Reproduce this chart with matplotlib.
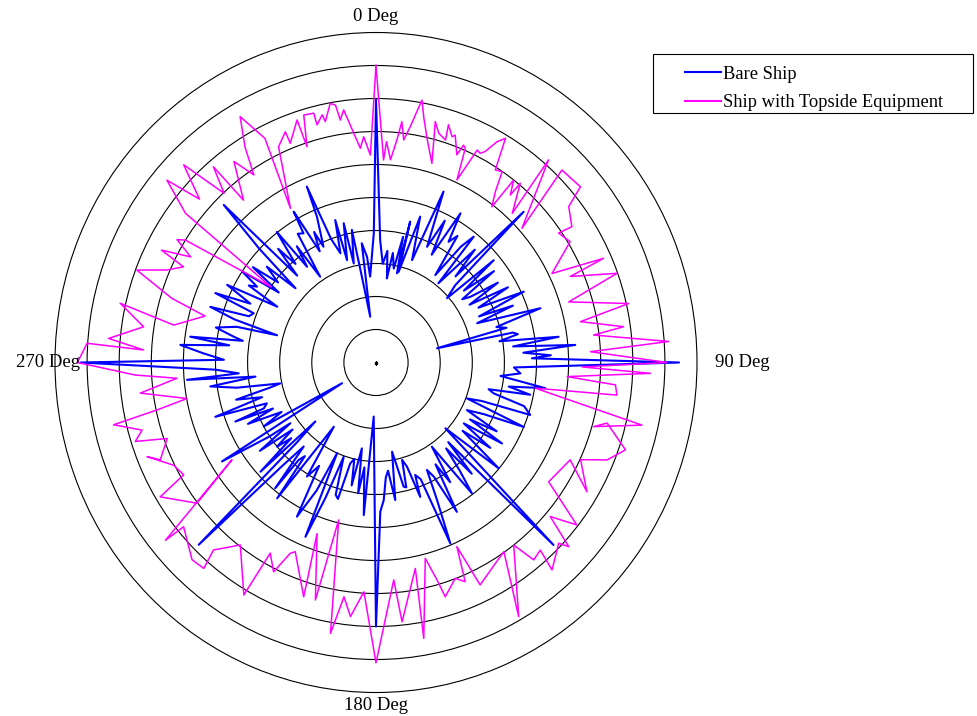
import numpy as np
import matplotlib
matplotlib.use("Agg")
import matplotlib.pyplot as plt
from matplotlib.patches import Rectangle
from matplotlib.lines import Line2D

plt.rcParams["font.family"] = ["Liberation Serif", "DejaVu Serif"]

# Bare hull RCS pattern: aspect angle (deg, clockwise from bow) and level
bare_ship_deg = [
    # starboard bow quadrant
    0, 2, 4, 6, 7.6, 9, 11, 12.5, 13.6, 14,
    14.4, 17.3, 19.9, 22.1, 24.4, 26.5, 28, 30.2, 31.7, 33.5,
    34.9, 37, 38.6, 39, 42, 43.5, 45.2, 46.5, 48.6, 49.8,
    51.5, 53, 54.5, 55.9, 57.5, 59, 61, 62.5, 65, 66.5,
    68, 69.3, 72.2, 74, 75.5, 77.2, 78, 79, 80.5, 82.2,
    83.5, 85.1, 86.3, 87.7, 88.5,
    # starboard quarter
    90, 92, 94.2, 96, 98.4, 100, 101.5, 103, 104.3, 106,
    108.3, 109.5, 111, 113, 115, 117, 119, 120.5, 122, 124,
    126, 127.5, 130, 132.7, 135, 137, 138.5, 140, 141.5, 143,
    145.7, 147.5, 149, 150.9, 152.5, 154, 155.5, 157.1, 158.5, 160.3,
    161.3, 163, 164.6, 166, 167.1, 169.5, 171.8, 173.5, 175, 176.7,
    178.3,
    # port quarter
    180, 182.5, 184.7, 186.5, 188, 189.6, 191.5, 193, 194.7, 196,
    197.4, 199.4, 201, 202.6, 203.8, 205.5, 207.8, 209.5, 211.9, 212.4,
    214, 216.8, 218, 219.2, 219.5, 221.5, 223, 225, 225.5, 226.6,
    227.4, 229, 230.4, 232, 233.5, 235.4, 236, 238, 239.3, 241,
    243, 245, 246.5, 247.8, 248.3, 250, 251.8, 253.5, 255.5, 257,
    258, 260, 262, 263.5, 264.9, 265.6, 267.5,
    # port bow quadrant
    270, 271, 273, 275, 276.5, 277.7, 279, 280, 282, 284,
    285, 286.5, 288.1, 289.5, 291.4, 292.8, 294.5, 296.9, 298.8, 300.5,
    301.8, 303.5, 305, 307, 308.5, 310.5, 311.9, 313.5, 315.2, 317,
    318.5, 320, 322, 323.5, 325, 326.2, 328, 330, 330.7, 330.9,
    332.5, 334, 335, 337.4, 338, 339.5, 341.5, 343.6, 343.8, 346.6,
    347, 349.4, 350.4, 352.6, 353, 355, 356, 359,
]
bare_ship_r = [
    7.95, 3.71, 3.0, 3.4, 2.57, 3.36, 2.9, 3.9, 2.78, 4.4,
    2.84, 4.63, 3.3, 5.59, 3.85, 4.8, 3.7, 5.23, 4.3, 4.6,
    3.23, 4.4, 4.88, 3.09, 4.6, 3.6, 6.48, 3.4, 2.95, 4.8,
    3.5, 4.6, 3.3, 3.55, 4.5, 3.4, 4.7, 3.6, 5.08, 3.5,
    4.6, 3.37, 5.38, 3.9, 4.2, 1.95, 4.36, 4.5, 3.9, 5.74,
    4.3, 6.23, 4.6, 5.45, 4.86,
    9.44, 4.3, 4.51, 3.9, 5.33, 4.2, 4.9, 3.6, 3.78, 4.8,
    5.06, 3.5, 3.04, 5.0, 3.7, 3.18, 4.3, 3.4, 4.63, 3.3,
    4.4, 3.4, 4.99, 2.94, 7.82, 3.3, 4.5, 3.4, 4.2, 4.96,
    3.09, 4.3, 3.6, 5.18, 3.9, 3.62, 4.6, 5.95, 3.8, 3.62,
    4.3, 3.3, 3.06, 3.9, 3.86, 2.75, 4.21, 3.3, 3.5, 4.18,
    4.52,
    8.0, 1.64, 4.64, 3.2, 4.0, 2.64, 3.8, 3.0, 3.16, 4.3,
    4.2, 3.03, 4.4, 5.72, 3.0, 4.3, 5.28, 3.6, 4.07, 3.43,
    2.35, 5.14, 3.6, 3.81, 4.94, 3.4, 4.3, 7.81, 3.47, 2.6,
    4.89, 3.5, 4.0, 3.3, 4.5, 3.24, 4.03, 5.66, 1.23, 4.0,
    3.3, 4.4, 3.5, 4.73, 3.76, 3.62, 5.27, 3.7, 4.5, 3.4,
    3.05, 4.4, 5.21, 3.78, 5.91, 4.29, 5.0,
    9.2, 4.74, 5.4, 6.12, 4.6, 5.84, 4.2, 4.5, 5.1, 4.47,
    3.19, 4.6, 5.43, 4.2, 4.09, 5.43, 4.3, 5.2, 3.51, 4.6,
    4.36, 5.0, 3.7, 4.8, 3.9, 4.47, 3.37, 5.03, 6.73, 3.6,
    4.6, 3.9, 5.02, 3.61, 4.3, 3.13, 4.6, 4.52, 5.24, 5.06,
    3.8, 4.4, 3.87, 4.79, 5.75, 4.0, 3.49, 4.5, 3.23, 4.34,
    3.08, 4.09, 2.64, 1.4, 3.64, 3.22, 2.61, 3.92,
]

# RCS pattern with topside equipment fitted
topside_deg = [
    0, 2.2, 2.8, 4.2, 5.5, 6.3, 7.3, 8.5, 10.2, 11.4,
    13.2, 16.1, 14.2, 15.7, 17.8, 17.4, 19.1, 19.7, 21.8, 22.5,
    23.2, 24.5, 26.1, 27.1, 28, 29.4, 30.7, 32.5, 34.2, 35.7,
    37.4, 37.8, 39.5, 39.6, 43.2, 41.2, 48.2, 44.8, 50.1, 51.8,
    56, 55.4, 58.8, 63.8, 66, 66.7, 70.2, 73, 77.2, 79,
    82, 83, 86, 87.2,
    90, 91.2, 92.2, 94.1, 95.2, 97.5, 98.9, 102.9, 106, 104.3,
    108.8, 112.3, 114.8, 120.8, 116, 123.9, 128.2, 130.7, 132.9, 133.9,
    138.9, 138, 140.6, 142.2, 150, 145.2, 148.5, 154.3, 155.7, 157.3,
    159.3, 163.1, 163.9, 165.5, 169.9, 168.9, 174.1, 175.2,
    180, 183.1, 185.9, 188, 189.8, 193.7, 194.7, 199.5, 197.6, 203.7,
    204.8, 206.7, 209.7, 210.3, 217.4, 221.7, 220.7, 223.8, 230.3, 230.6,
    236.7, 232.6, 238.8, 240.4, 243.7, 248.2, 246.3, 250.5, 252.3, 254.3,
    257, 258.1, 259.5, 262.8, 265.6, 267.1,
    270, 273.7, 273, 275, 278.5, 282.7, 280.2, 284.8, 287, 290.6,
    293.3, 295.8, 297, 299, 301, 302, 305, 307.3, 310.3, 312,
    315, 317.3, 319.5, 320, 324, 326.2, 328, 330.4, 333, 330.3,
    335.1, 338, 338.1, 341.5, 341.8, 343.3, 345.6, 345.7, 347.4, 347.8,
    349.7, 350.8, 351.4, 352.5, 354.3, 355.7, 356.8, 358.4,
]
topside_r = [
    9.0, 6.14, 6.70, 6.16, 6.77, 7.34, 6.8, 7.23, 8.08, 7.55,
    6.97, 6.28, 7.53, 7.22, 7.08, 7.55, 7.24, 7.32, 6.78, 7.13,
    7.06, 6.08, 7.17, 7.12, 7.24, 7.68, 7.9, 6.92, 6.99, 6.37,
    5.94, 7.0, 6.58, 7.05, 6.2, 8.16, 6.1, 8.22, 8.3, 7.64,
    7.36, 6.91, 7.07, 6.11, 7.76, 6.59, 7.98, 6.28, 8.07, 6.49,
    7.79, 6.83, 9.14, 6.69,
    9.07, 6.42, 8.56, 5.97, 7.49, 7.57, 5.02, 8.5, 7.05, 7.43,
    8.21, 7.78, 7.02, 7.65, 6.73, 6.48, 7.96, 7.16, 8.2, 7.9,
    8.34, 7.65, 7.74, 7.0, 8.89, 6.98, 7.13, 7.48, 6.12, 7.2,
    6.99, 7.42, 6.86, 6.13, 8.49, 6.36, 7.9, 6.61,
    9.1, 6.96, 7.74, 7.17, 8.33, 4.91, 7.44, 5.5, 7.45, 6.26,
    6.37, 7.1, 6.65, 8.16, 6.96, 7.61, 8.23, 8.28, 7.79, 8.49,
    5.37, 7.02, 7.86, 6.89, 7.03, 7.68, 7.34, 6.9, 7.87, 7.57,
    8.39, 6.97, 5.99, 7.4, 6.22, 7.51,
    9.3, 9.02, 7.25, 8.36, 7.32, 8.17, 6.4, 5.51, 6.65, 7.96,
    7.09, 6.66, 7.5, 6.6, 7.23, 7.0, 4.0, 7.46, 8.54, 7.4,
    8.47, 6.98, 7.8, 6.42, 7.53, 6.84, 7.7, 8.57, 7.62, 5.38,
    7.21, 7.54, 7.16, 7.75, 6.88, 7.83, 7.8, 7.43, 7.69, 7.47,
    7.98, 7.9, 7.43, 7.72, 6.98, 6.51, 6.85, 6.29,
]

series_names = ["Bare Ship", "Ship with Topside Equipment"]
series_colors = ["#0000ff", "#ff00ff"]
ring_values = list(range(1, 10))
r_max = 10
direction_labels = ["0 Deg", "90 Deg", "180 Deg", "270 Deg"]

assert len(bare_ship_deg) == len(bare_ship_r)
assert len(topside_deg) == len(topside_r)


def closed_trace(deg, r):
    """Angles in radians and radii, with the first point repeated at 360 deg."""
    th = np.deg2rad(np.append(deg, deg[0] + 360.0))
    return th, np.append(r, r[0])


W, H = 977, 716
fig = plt.figure(figsize=(W / 100, H / 100), dpi=100)
ax = fig.add_axes([55 / W, 23.5 / H, 642 / W, 660 / H], projection="polar")
ax.set_aspect("auto")
ax.set_theta_zero_location("N")
ax.set_theta_direction(-1)

ax.plot(*closed_trace(bare_ship_deg, bare_ship_r), color=series_colors[0], lw=1.5)
ax.plot(*closed_trace(topside_deg, topside_r), color=series_colors[1], lw=1.1)
ax.plot([0], [0], marker="s", ms=1.6, color="k")

ax.set_ylim(0, r_max)
ax.set_yticks(ring_values)
ax.set_yticklabels([])
ax.set_xticks([])
ax.yaxis.grid(True, color="black", lw=0.8, ls="-")
ax.spines["polar"].set_color("black")
ax.spines["polar"].set_linewidth(0.8)

fs = 13.5
ax.text(0, 10.47, direction_labels[0], ha="center", va="center", fontsize=fs, clip_on=False)
ax.text(np.pi / 2, 10.56, direction_labels[1], ha="left", va="center", fontsize=fs, clip_on=False)
ax.text(np.pi, 10.4, direction_labels[2], ha="center", va="center", fontsize=fs, clip_on=False)
ax.text(3 * np.pi / 2, 9.22, direction_labels[3], ha="right", va="center", fontsize=fs, clip_on=False)

handles = [Line2D([], [], color=c, lw=1.5) for c in series_colors]
fig.legend(handles, series_names, loc="center left",
           bbox_to_anchor=(685 / W, 1 - 88.5 / H), frameon=False,
           fontsize=13.3, handlelength=35 / 18, handletextpad=0.1,
           labelspacing=0.6, borderpad=0, borderaxespad=0)
fig.add_artist(Rectangle((653 / W, 1 - 113 / H), 320 / W, 59 / H,
                         transform=fig.transFigure, fill=False,
                         ec="black", lw=0.8))

fig.savefig("out.png", dpi=100)
